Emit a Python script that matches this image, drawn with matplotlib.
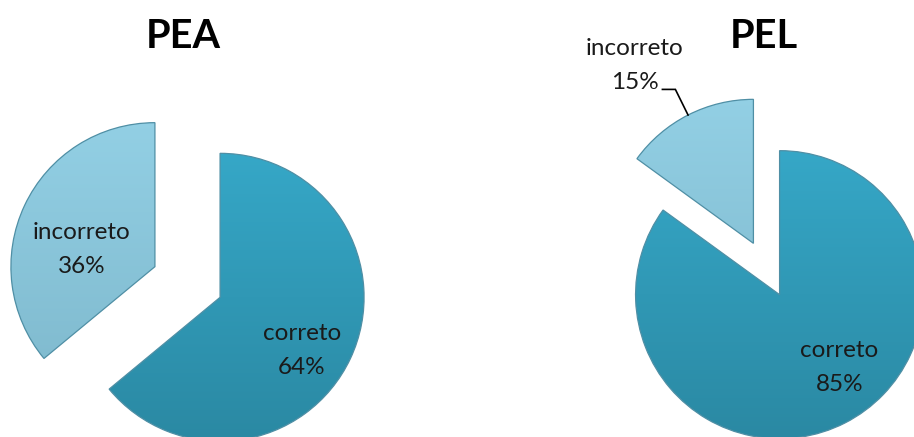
import numpy as np
import matplotlib
matplotlib.use('Agg')
import matplotlib.pyplot as plt

# dados
categorias = ['correto', 'incorreto']
pea_valores = [64, 36]
pel_valores = [85, 15]
titulos = ['PEA', 'PEL']

cores_topo = ['#36A8C8', '#93D0E5']
cores_base = ['#2A88A2', '#7DB7CB']

R = 144.0  # raio em pixels
W, H = 914, 437

fig = plt.figure(figsize=(W / 100, H / 100), dpi=100)
ax = fig.add_axes([0, 0, 1, 1])


def gradiente(ax, wedge, c1, c2):
    c1 = np.array(matplotlib.colors.to_rgb(c1))
    c2 = np.array(matplotlib.colors.to_rgb(c2))
    t = np.linspace(0, 1, 256)[:, None]
    img = (1 - t) * c1 + t * c2
    img = np.repeat(img[:, None, :], 2, axis=1)
    cx, cy = wedge.center
    im = ax.imshow(img, extent=[cx - 1.05, cx + 1.05, cy - 1.05, cy + 1.05],
                   origin='upper', aspect='auto', zorder=2, interpolation='bilinear')
    im.set_clip_path(wedge)


def desenha(ax, valores, centro, explode, titulo, pos_titulo, pos_rotulos, guia=None):
    wedges, _ = ax.pie(valores, startangle=90, counterclock=False, radius=1,
                       center=centro, explode=explode,
                       wedgeprops=dict(edgecolor='#4F8FA5', linewidth=0.9))
    for i, w in enumerate(wedges):
        w.set_zorder(3)
        w.set_facecolor('none')
        gradiente(ax, w, cores_topo[i], cores_base[i])
        cx, cy = w.center
        dx, dy = pos_rotulos[i]
        txt = '%s\n%d%%' % (categorias[i], valores[i])
        ax.text(cx + dx, cy + dy, txt, ha='center', va='center', fontsize=17.5,
                family='Lato', linespacing=1.75, color='#1a1a1a', zorder=5)
    if guia is not None:
        w = wedges[1]
        cx, cy = w.center
        tm = np.deg2rad((w.theta1 + w.theta2) / 2)
        px, py = cx + np.cos(tm), cy + np.sin(tm)
        xs = [cx + guia[0][0], cx + guia[1][0], px]
        ys = [cy + guia[0][1], cy + guia[1][1], py]
        ax.plot(xs, ys, color='black', lw=1.2, zorder=5, solid_joinstyle='miter')
    ax.text(pos_titulo[0], pos_titulo[1], titulo, ha='center', va='center',
            fontsize=28.5, fontweight='bold', family='Lato', zorder=5)


desenha(ax, pea_valores, (187.5 / R, (H - 282) / R), [0.25, 0.25], titulos[0],
        (183 / R, (H - 36) / R),
        [(0.569, -0.368), (-0.507, 0.118)])
desenha(ax, pel_valores, (766.5 / R, (H - 269) / R), [0.2, 0.2], titulos[1],
        (764 / R, (H - 36) / R),
        [(0.417, -0.507), (-0.826, 1.236)],
        guia=[(-0.632, 1.069), (-0.542, 1.069)])

ax.set_xlim(0, W / R)
ax.set_ylim(0, H / R)
ax.set_aspect('auto')
ax.axis('off')

fig.savefig('out.png', dpi=100)
